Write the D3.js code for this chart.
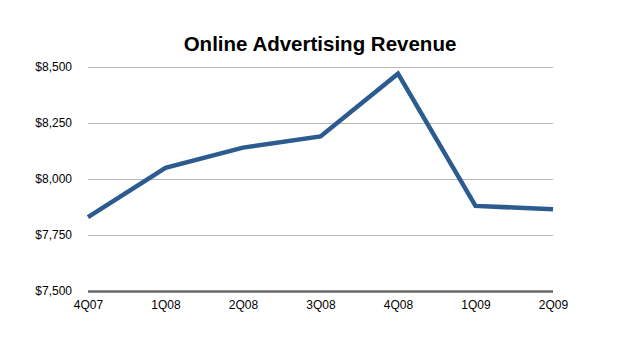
<!DOCTYPE html>
<html>
<head>
<meta charset="utf-8">
<script src="https://cdn.jsdelivr.net/npm/d3@7"></script>
<style>
  html, body { margin: 0; padding: 0; background: #fff; }
  svg { display: block; font-family: "Liberation Sans", Arial, Helvetica, sans-serif; }
</style>
</head>
<body>
<svg id="chart" width="618" height="346"></svg>
<script>
// Quarterly online advertising revenue (millions of dollars)
const quarters = ["4Q07", "1Q08", "2Q08", "3Q08", "4Q08", "1Q09", "2Q09"];
const revenue = [7830, 8050, 8140, 8190, 8470, 7880, 7865];
const yTicks = [7500, 7750, 8000, 8250, 8500];
const titleText = "Online Advertising Revenue";

const svg = d3.select("#chart");
const margin = { left: 88, right: 65, top: 67, bottom: 55 };
const W = 618, H = 346;

const x = d3.scalePoint().domain(quarters).range([margin.left, W - margin.right]);
const y = d3.scaleLinear().domain([7500, 8500]).range([H - margin.bottom, margin.top]);

// Title
svg.append("text")
  .attr("x", 320).attr("y", 51)
  .attr("text-anchor", "middle")
  .attr("font-size", 20.5).attr("font-weight", "bold")
  .attr("fill", "#000")
  .text(titleText);

// Horizontal gridlines and y labels
const yAxis = d3.axisLeft(y)
  .tickValues(yTicks)
  .tickSize(-(W - margin.left - margin.right))
  .tickPadding(16)
  .tickFormat(d => "$" + d3.format(",")(d));

const gy = svg.append("g")
  .attr("transform", `translate(${margin.left},0)`)
  .call(yAxis);
gy.select(".domain").remove();
gy.selectAll(".tick line")
  .attr("stroke", d => d === 7500 ? "#666" : "#b8b8b8")
  .attr("stroke-width", d => d === 7500 ? 2.5 : 1);
gy.selectAll(".tick text")
  .attr("font-size", 12).attr("fill", "#000")
  .attr("font-family", "Liberation Sans, Arial, sans-serif");

// X axis labels
const xAxis = d3.axisBottom(x).tickSize(0).tickPadding(9);
const gx = svg.append("g")
  .attr("transform", `translate(0,${H - margin.bottom})`)
  .call(xAxis);
gx.select(".domain").remove();
gx.selectAll(".tick text")
  .attr("font-size", 12).attr("fill", "#000")
  .attr("font-family", "Liberation Sans, Arial, sans-serif");

// Revenue line
const line = d3.line()
  .x((d, i) => x(quarters[i]))
  .y(d => y(d));

svg.append("path")
  .datum(revenue)
  .attr("d", line)
  .attr("fill", "none")
  .attr("stroke", "#2b5b8f")
  .attr("stroke-width", 4.5)
  .attr("stroke-linejoin", "miter");
</script>
</body>
</html>
